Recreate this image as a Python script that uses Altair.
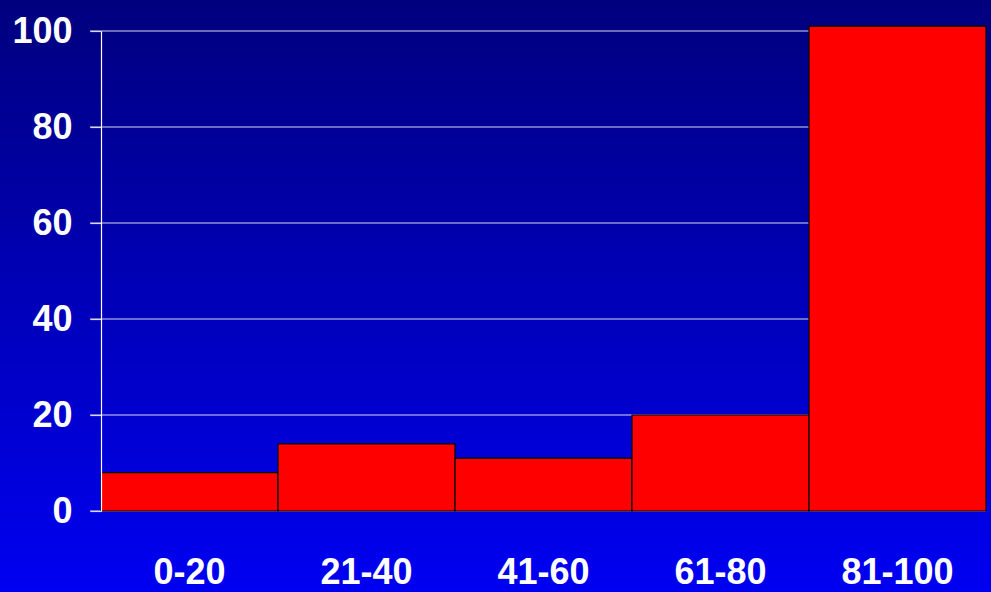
import altair as alt
import pandas as pd

categories = ["0-20", "21-40", "41-60", "61-80", "81-100"]
values = [8, 14, 11, 20, 101]
y_ticks = [0, 20, 40, 60, 80, 100]

FONT = "Liberation Sans Narrow, Arial Narrow, Liberation Sans, Arial"
FS = 36

df = pd.DataFrame({"range": categories, "value": values})
grid_df = pd.DataFrame({"tick": y_ticks})

W, H = 885, 480
PAD = {"left": 101, "top": 31, "right": 5, "bottom": 81}

y_scale = alt.Scale(domain=[0, 100], nice=False)
y_axis = alt.Axis(title=None, values=y_ticks, grid=False, zindex=1,
                  domain=True, domainColor="white", domainWidth=1.2,
                  ticks=True, tickSize=11, tickColor="#D8D8F0", tickWidth=1.2,
                  labelFont=FONT, labelFontSize=FS, labelFontWeight="bold",
                  labelColor="white", labelPadding=18)

background = alt.Chart(pd.DataFrame({"a": [0]})).mark_rect(
    clip=False,
    fill=alt.LinearGradient(
        gradient="linear",
        stops=[alt.GradientStop(color="#00007E", offset=0),
               alt.GradientStop(color="#0000F2", offset=1)],
        x1=0, x2=0, y1=0, y2=1,
    ),
).encode(
    x=alt.value(-PAD["left"]), x2=alt.value(W + PAD["right"]),
    y=alt.value(-PAD["top"]), y2=alt.value(H + PAD["bottom"]),
)

grid = alt.Chart(grid_df).mark_rule(color="#D8D8F0", strokeWidth=1.2, clip=False).encode(
    y=alt.Y("tick:Q", scale=y_scale, axis=y_axis),
    x=alt.value(-11), x2=alt.value(W),
)

bars = alt.Chart(df).mark_bar(
    color="#FF0000", stroke="#000000", strokeWidth=1.2, clip=False
).encode(
    x=alt.X("range:N", sort=categories,
            scale=alt.Scale(paddingInner=0, paddingOuter=0),
            axis=alt.Axis(title=None, labelAngle=0, domain=False, ticks=False, zindex=1,
                          labelFont=FONT, labelFontSize=FS, labelFontWeight="bold",
                          labelColor="white", labelPadding=44, labelBaseline="top")),
    y=alt.Y("value:Q", scale=y_scale, axis=y_axis),
)

chart = alt.layer(background, grid, bars).properties(
    width=W, height=H,
    autosize=alt.AutoSizeParams(type="none"),
    padding=PAD,
    background="#00007E",
).configure_view(stroke=None)

chart.save("out.html", embed_options={"renderer": "svg", "actions": False})
